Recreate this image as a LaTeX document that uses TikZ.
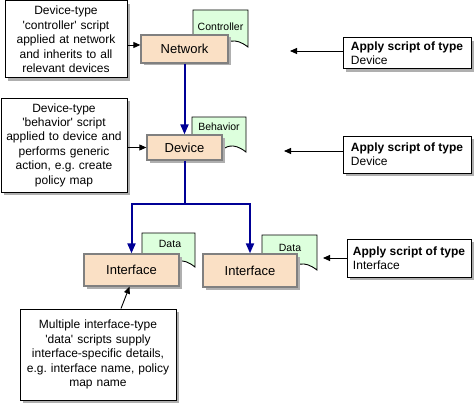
\documentclass[tikz,border=0pt]{standalone}
\usepackage{fontspec}
\setmainfont{Liberation Sans}
\usetikzlibrary{positioning,arrows.meta,shadows}

\definecolor{boxfill}{RGB}{250,224,197}
\definecolor{notefill}{RGB}{221,255,221}
\definecolor{boxline}{RGB}{128,128,128}
\definecolor{linkblue}{RGB}{0,0,150}
\definecolor{shadowgray}{RGB}{175,175,175}

\frenchspacing

\begin{document}
\begin{tikzpicture}[x=1pt,y=-1pt,
    devbox/.style={draw=boxline, line width=1.3pt, fill=boxfill, inner sep=0pt,
        font=\fontsize{13}{15}\selectfont,
        drop shadow={shadow xshift=2.5pt, shadow yshift=-2.5pt, fill=shadowgray, opacity=1}},
    scriptcall/.style={draw, line width=1pt, fill=white, align=center, inner sep=4pt,
        font=\fontsize{12}{14.4}\selectfont,
        drop shadow={shadow xshift=3pt, shadow yshift=-3pt, fill=shadowgray, opacity=1}},
    applybox/.style={scriptcall, align=left, inner sep=3pt, font=\fontsize{12}{13.6}\selectfont},
    notebox/.style={draw, line width=0.9pt, fill=notefill},
    notelabel/.style={font=\fontsize{10.5}{12}\selectfont, inner sep=1pt},
    bluelink/.style={draw=linkblue, line width=2pt, -{Triangle[length=10pt,width=8pt]}},
    callarrow/.style={line width=0.9pt, -{Triangle[length=7pt,width=6pt]}}]
    \useasboundingbox (0,0) rectangle (474,404);

    % Script notes behind the boxes
    \foreach \xa/\ya/\xb/\yb/\tx/\ty/\nm/\txt in {193/10/248/47/220.5/27/ctrlnote/Controller,
        192/117/246/152/219/127/behnote/Behavior,
        142/233/195/267/170/244/datanoteL/Data,
        262/235/317/270/290/248/datanoteR/Data}{
      \draw[notebox] (\xa,\yb) -- (\xa,\ya) -- (\xb,\ya) -- (\xb,\yb)
          .. controls ({(\xa+\xb)/2},{\yb-21}) and ({(\xa+\xb)/2},{\yb+21}) .. (\xa,\yb) -- cycle;
      \node[notelabel] (\nm) at (\tx,\ty) {\txt};
    }

    % Object boxes
    \node[devbox, minimum width=87pt, minimum height=28pt] (network) at (184.5,49) {Network};
    \node[devbox, minimum width=75pt, minimum height=25pt] (device) at (184.5,147.5) {Device};
    \node[devbox, minimum width=95pt, minimum height=32pt] (ifleft) at (131.5,270) {Interface};
    \node[devbox, minimum width=94pt, minimum height=33pt] (ifright) at (250,270.5) {Interface};

    % Blue hierarchy
    \draw[bluelink] (network.south) -- (device.north);
    \draw[draw=linkblue, line width=2pt] (device.south) -- ++(0,43) coordinate (fork);
    \draw[bluelink] (fork) -| (ifleft.north);
    \draw[bluelink] (fork) -| (ifright.north);

    % Explanations on the left
    \node[scriptcall, text width=114pt, minimum height=77pt] (ctrlcall) at (66,39.5)
        {Device-type\\\textquotesingle controller\textquotesingle{} script\\applied at network\\and inherits to all\\relevant devices};
    \node[scriptcall, text width=118pt, minimum height=94pt] (behcall) at (64,145)
        {Device-type\\\textquotesingle behavior\textquotesingle{} script\\applied to device and\\performs generic\\action, e.g. create\\policy map};
    \node[scriptcall, text width=148pt, minimum height=91pt] (datacall) at (98,354.5)
        {Multiple interface-type\\\textquotesingle data\textquotesingle{} scripts supply\\interface-specific details,\\e.g. interface name, policy\\map name};

    \draw[callarrow] (ctrlcall.east |- 0,45) -- (network.west |- 0,45);
    \draw[callarrow] (behcall.east |- device.west) -- (device.west);
    \draw[callarrow] ([xshift=23pt]datacall.north) -- ([xshift=-2pt]ifleft.south);

    % Script types on the right
    \node[applybox, minimum width=128pt, minimum height=31pt] (apply1) at (407,53.5)
        {\textbf{Apply script of type}\\Device};
    \node[applybox, minimum width=128pt, minimum height=37pt] (apply2) at (407,154.5)
        {\textbf{Apply script of type}\\Device};
    \node[applybox, minimum width=124pt, minimum height=38pt] (apply3) at (409,258)
        {\textbf{Apply script of type}\\Interface};

    \coordinate (tip1) at (290,51);
    \coordinate (tip2) at (284,151);
    \coordinate (tip3) at (323,258);
    \draw[callarrow] (apply1.west |- tip1) -- (tip1);
    \draw[callarrow] (apply2.west |- tip2) -- (tip2);
    \draw[callarrow] (apply3.west |- tip3) -- (tip3);
\end{tikzpicture}
\end{document}
